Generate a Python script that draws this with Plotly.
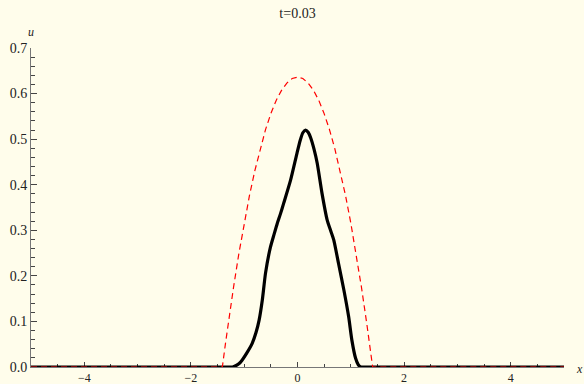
import plotly.graph_objects as go

# Numerical solution (black, thick)
x_num = [-5.0, -4.0, -3.0, -2.0, -1.5, -1.3, -1.22, -1.19, -1.10, -1.04, -0.95, -0.85,
         -0.78, -0.72, -0.66, -0.60, -0.51, -0.44, -0.38, -0.32, -0.26, -0.13, -0.01,
         0.05, 0.10, 0.15, 0.20, 0.25, 0.31, 0.37, 0.46, 0.556, 0.62, 0.68, 0.77, 0.87,
         0.96, 1.02, 1.09, 1.14, 1.19, 1.25, 1.4, 2.0, 3.0, 4.0, 5.0]
u_num = [0.0, 0.0, 0.0, 0.0, 0.0, 0.0, 0.0, 0.001, 0.007, 0.015, 0.031, 0.052,
         0.075, 0.103, 0.147, 0.206, 0.262, 0.291, 0.315, 0.336, 0.359, 0.41, 0.469,
         0.497, 0.514, 0.52, 0.515, 0.502, 0.478, 0.447, 0.381, 0.323, 0.300, 0.279, 0.227, 0.169,
         0.110, 0.059, 0.019, 0.005, 0.0, 0.0, 0.0, 0.0, 0.0, 0.0, 0.0]

# Exact profile (red, dashed)
x_ex = [-5.0, -1.41, -1.35, -1.3, -1.2, -1.1, -1.0, -0.9, -0.8, -0.7, -0.6, -0.5, -0.4,
        -0.3, -0.2, -0.1, 0.0, 0.1, 0.2, 0.3, 0.4, 0.5, 0.6, 0.7, 0.8, 0.9, 1.0, 1.1,
        1.2, 1.3, 1.35, 1.41, 5.0]
u_ex = [0.0, 0.0, 0.053, 0.095, 0.175, 0.249, 0.316, 0.377, 0.431, 0.479, 0.521, 0.556,
        0.585, 0.607, 0.623, 0.633, 0.636, 0.633, 0.623, 0.607, 0.585, 0.556, 0.521, 0.479,
        0.431, 0.377, 0.316, 0.249, 0.175, 0.095, 0.053, 0.0, 0.0]

title_text = "t=0.03"
x_ticks = [-4, -2, 0, 2, 4]
y_ticks = [0.0, 0.1, 0.2, 0.3, 0.4, 0.5, 0.6, 0.7]

bg = "#FFFDEB"
serif = "Liberation Serif"

fig = go.Figure()
fig.add_trace(go.Scatter(x=x_num, y=u_num, mode="lines",
                         line=dict(color="black", width=3.2, shape="spline", smoothing=0.6),
                         showlegend=False, hoverinfo="skip"))
fig.add_trace(go.Scatter(x=x_ex, y=u_ex, mode="lines",
                         line=dict(color="#FF0000", width=1.2, dash="6px,4px"),
                         showlegend=False, hoverinfo="skip"))

fig.update_layout(
    width=584, height=384,
    margin=dict(l=31, r=20, t=48, b=17, autoexpand=False),
    paper_bgcolor=bg, plot_bgcolor=bg,
    title=dict(text=title_text, x=0.5, xanchor="center", y=1 - 13/384, yanchor="middle",
               xref="paper", yref="container",
               font=dict(family=serif, size=14, color="#222")),
    font=dict(family=serif, size=12, color="#222"),
    xaxis=dict(range=[-5, 5], tickvals=x_ticks, ticks="inside", ticklen=5, tickwidth=1,
               tickcolor="#444", showgrid=False, zeroline=False, showline=True,
               linecolor="#777", linewidth=1, layer="below traces", automargin=False,
               tickfont=dict(family=serif, size=12, color="#222"),
               minor=dict(dtick=0.5, ticks="inside", ticklen=3, tickcolor="#444", showgrid=False)),
    yaxis=dict(range=[0, 0.7], tickvals=y_ticks, tickformat=".1f", ticks="inside",
               ticklen=6, tickwidth=1, tickcolor="#444", showgrid=False, zeroline=False,
               showline=True, linecolor="#777", linewidth=1, layer="below traces",
               automargin=False,
               tickfont=dict(family=serif, size=14, color="#222"),
               minor=dict(dtick=0.02, ticks="inside", ticklen=3.5, tickcolor="#444", showgrid=False)),
    annotations=[
        dict(text="<i>u</i>", xref="paper", yref="paper", x=0.0, y=1.05,
             showarrow=False, xanchor="center", yanchor="middle",
             font=dict(family=serif, size=12, color="#222")),
        dict(text="<i>x</i>", xref="paper", yref="paper", x=1.030, y=-0.006,
             showarrow=False, xanchor="center", yanchor="middle",
             font=dict(family=serif, size=12, color="#222")),
    ],
)

fig.write_html("out.html")
